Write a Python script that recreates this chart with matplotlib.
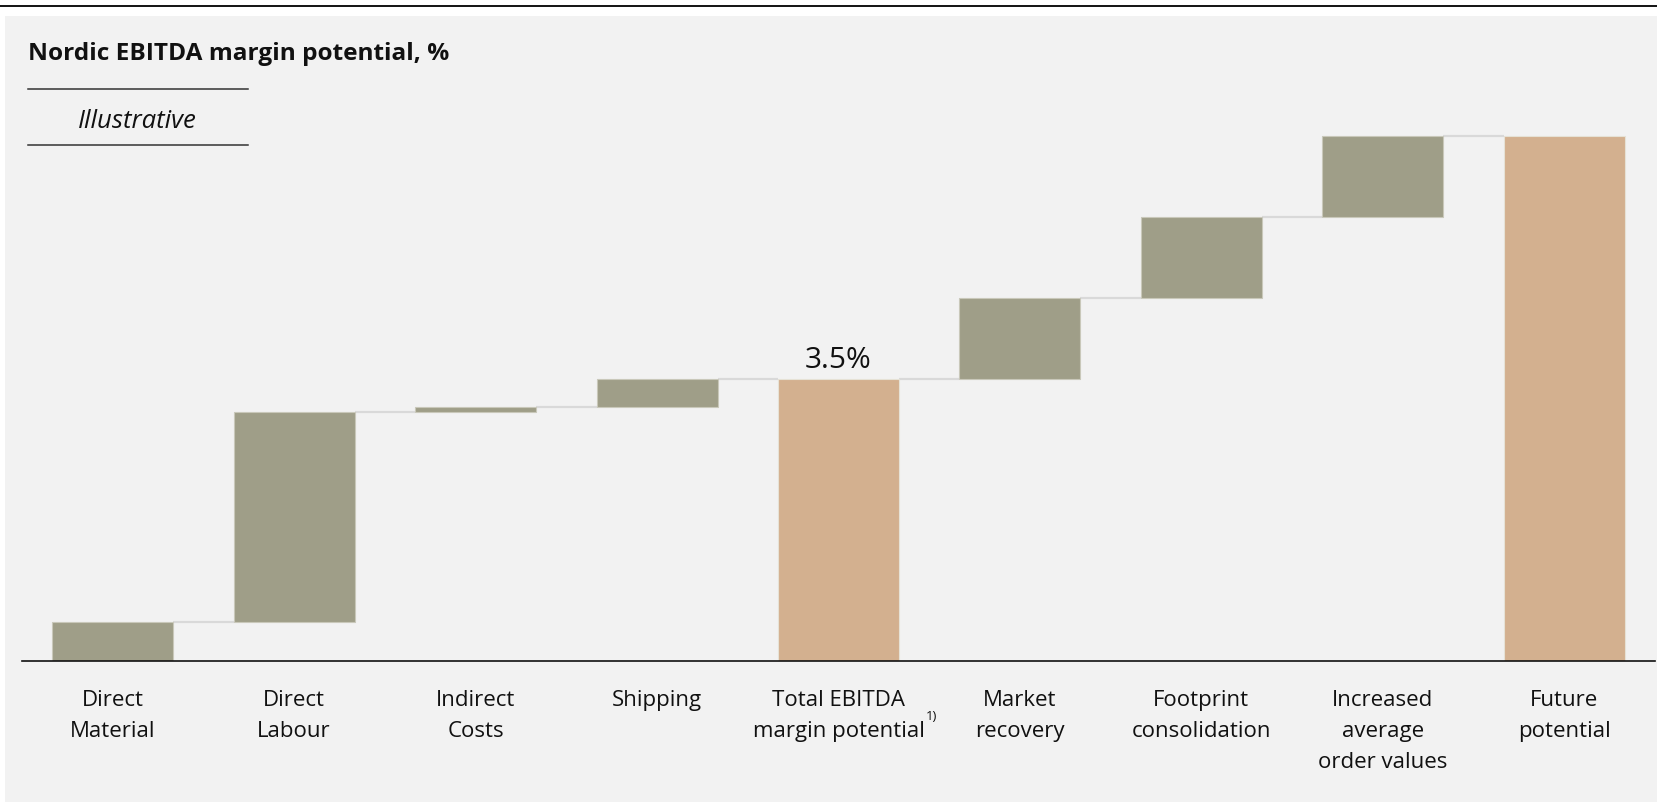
import matplotlib.pyplot as plt
from matplotlib.patches import Rectangle
from matplotlib.lines import Line2D

plt.rcParams['font.family'] = ['Open Sans', 'DejaVu Sans']

categories = ['Direct\nMaterial', 'Direct\nLabour', 'Indirect\nCosts', 'Shipping',
              'Total EBITDA\nmargin potential', 'Market\nrecovery',
              'Footprint\nconsolidation', 'Increased\naverage\norder values',
              'Future\npotential']
values = [0.49, 2.60, 0.06, 0.35, 3.5, 1.0, 1.0, 1.0, 6.5]
is_total = [False, False, False, False, True, False, False, False, True]
total_label = '3.5%'

step_color = '#9f9e88'
total_color = '#d3b08f'
W, H = 1658, 803

fig = plt.figure(figsize=(W / 100, H / 100), dpi=100, facecolor='white')

# light grey panel and the rule at the very top
fig.patches.append(Rectangle((5 / W, 0), 1 - 5 / W, 1 - 17 / H, transform=fig.transFigure,
                             facecolor='#f2f2f2', edgecolor='none', zorder=-5))
fig.lines.append(Line2D([0, 1], [1 - 6.7 / H] * 2, transform=fig.transFigure,
                        color='black', lw=1.3, zorder=-5))

fig.text(28 / W, 1 - 59.5 / H, 'Nordic EBITDA margin potential, %', fontsize=17.6,
         fontweight='bold', va='baseline', ha='left', color='#111111')
for yy in (90, 145.5):
    fig.lines.append(Line2D([28 / W, 248 / W], [1 - yy / H] * 2, transform=fig.transFigure,
                            color='#333333', lw=1.1, zorder=-4))
fig.text(137 / W, 1 - 128 / H, 'Illustrative', fontsize=18.5, style='italic',
         ha='center', va='baseline', color='#111111')

px_per_unit = 80.77
ymax = 7.5
ax = fig.add_axes([22 / W, (H - 662.3) / H, (1655 - 22) / W, ymax * px_per_unit / H])
ax.set_facecolor('none')
ax.set_xlim(-0.5, len(categories) - 0.5)
ax.set_ylim(0, ymax)

width = 0.667
running = 0.0
bottoms = []
for v, tot in zip(values, is_total):
    if tot:
        bottoms.append(0.0)
        running = v
    else:
        bottoms.append(running)
        running += v

for i, (v, b, tot) in enumerate(zip(values, bottoms, is_total)):
    ax.bar(i, v, bottom=b, width=width, color=total_color if tot else step_color,
           edgecolor='#e6e2d6' if tot else '#c9c8ba', linewidth=0.8, zorder=2)
    if i < len(values) - 1:
        level = b + v
        ax.plot([i + width / 2, i + 1 - width / 2], [level, level], color='#d9d9d9',
                lw=1.6, zorder=1, solid_capstyle='butt')

ax.annotate(total_label, xy=(4, values[4]), xytext=(0, 3), textcoords='offset points',
            ha='center', va='bottom', fontsize=21.5, color='#111111')

for s in ('top', 'right', 'left'):
    ax.spines[s].set_visible(False)
ax.spines['bottom'].set_linewidth(1.2)
ax.spines['bottom'].set_color('#111111')
ax.set_yticks([])
ax.set_xticks(range(len(categories)))
ax.set_xticklabels(categories, fontsize=16, color='#111111', linespacing=1.62)
ax.tick_params(axis='x', length=0, pad=20)

# footnote marker after the total's label
fig.canvas.draw()
lbl = ax.get_xticklabels()[4]
ax.annotate('1)', xy=(1, 0.37), xycoords=lbl, xytext=(1, 0), textcoords='offset points',
            fontsize=9.5, ha='left', va='bottom', color='#111111')

fig.savefig('out.png', dpi=100, facecolor='white')
